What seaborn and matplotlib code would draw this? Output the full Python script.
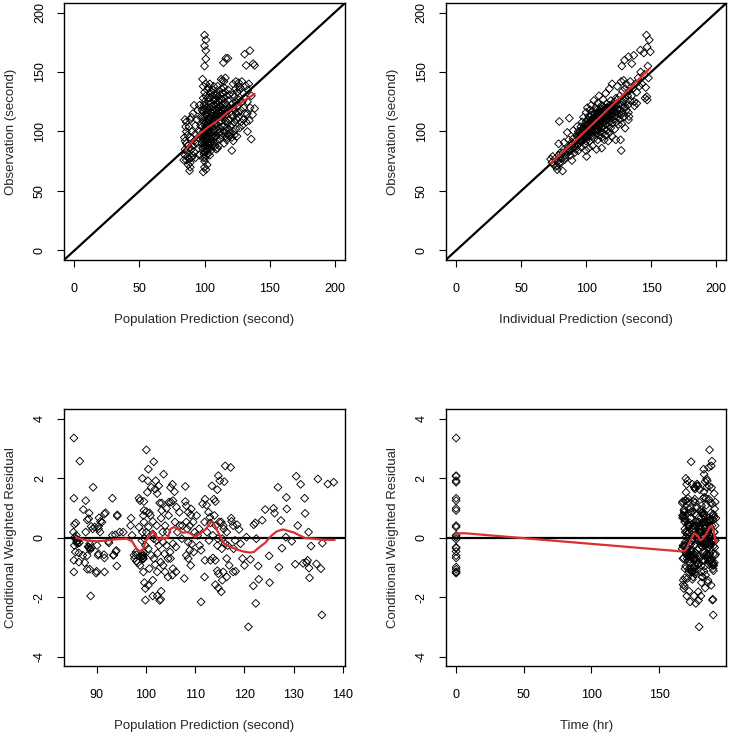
import matplotlib
matplotlib.use("Agg")
import matplotlib.pyplot as plt
import seaborn as sns
import pandas as pd

# observation vs population prediction (second)
pred_obs = [
    (85, 110), (86, 108), (85.5, 104), (86, 100), (87, 97), (84.5, 95), (85, 92), (86, 90), (87, 88),
    (88, 86), (85, 85), (86.5, 83), (85, 80), (87, 79), (88, 77), (86, 76), (84, 76), (89, 74),
    (87.5, 72), (89, 70), (88.5, 67), (90, 78), (91, 80), (90, 85), (91, 88), (92, 92), (89, 95),
    (90, 100), (88, 104), (89, 110), (91, 115), (92, 122), (90, 112), (93, 98), (93, 105), (94, 110),
    (95, 118), (96, 122), (94, 90), (95, 86), (92, 83), (93, 78), (96, 80), (95, 95), (96, 100),
    (97, 105), (97, 112), (98, 118),
    (99, 66), (100, 70), (101, 68), (102, 72), (100, 75), (99, 78), (101, 80), (100, 83), (102, 85),
    (99, 86), (101, 88), (100, 90), (98, 90), (102, 92), (99, 93), (101, 94), (100, 96), (103, 96),
    (98, 97), (100, 98), (102, 99), (99, 100), (101, 101), (103, 102), (100, 103), (98, 104),
    (102, 105), (100, 106), (101, 108), (99, 109), (103, 110), (100, 112), (101, 114), (102, 116),
    (99, 117), (100, 119), (102, 120), (101, 122), (100, 125), (103, 125), (99, 128), (101, 130),
    (100, 133), (102, 135), (99, 138), (101, 140), (98.5, 144), (100, 155), (101, 161), (101, 168),
    (100, 172), (101, 177), (100, 181),
    (104, 80), (105, 84), (103, 86), (106, 88), (104, 90), (107, 91), (105, 93), (103, 95), (106, 96),
    (104, 98), (108, 99), (105, 100), (107, 102), (104, 104), (106, 105), (108, 106), (105, 108),
    (103, 109), (107, 110), (104, 112), (106, 113), (108, 114), (105, 116), (103, 118), (107, 118),
    (104, 120), (106, 121), (108, 122), (105, 124), (107, 126), (104, 128), (106, 130), (108, 131),
    (105, 134), (103, 137), (107, 138), (104, 140),
    (109, 85), (111, 88), (110, 92), (112, 94), (109, 96), (113, 97), (111, 99), (110, 101),
    (112, 103), (114, 104), (109, 106), (111, 108), (113, 109), (110, 111), (112, 113), (114, 114),
    (109, 115), (111, 117), (113, 118), (110, 120), (112, 121), (114, 122), (109, 124), (111, 125),
    (113, 127), (110, 129), (112, 131), (114, 132), (111, 134), (113, 136), (110, 138), (112.8, 144),
    (113.8, 143), (114.5, 157.8), (112, 100), (108, 88), (110, 86),
    (115, 90), (117, 93), (116, 96), (118, 98), (115, 100), (119, 101), (117, 103), (115, 105),
    (118, 107), (116, 109), (119, 110), (115, 112), (117, 114), (116, 116), (118, 118), (115, 119),
    (119, 120), (117, 122), (116, 124), (118, 126), (115, 128), (117, 130), (119, 131), (116, 133),
    (118, 135), (115, 137), (114.9, 142), (116.4, 161.5), (118, 161.5), (116, 145), (117, 95),
    (119, 96), (120, 98),
    (121, 84), (122, 92), (121, 95), (123, 97), (122, 100), (124, 102), (120, 104), (121, 106),
    (123, 108), (125, 110), (122, 112), (121, 114), (124, 115), (126, 116), (123, 118), (122, 120),
    (125, 121), (121, 123), (124, 125), (126, 127), (123, 129), (122, 131), (125, 133), (127, 135),
    (124, 136), (126, 138), (124.1, 142), (126.2, 141), (127.2, 137.2), (128.7, 142), (122, 140),
    (127, 103), (128, 108), (126, 112), (128, 118), (125, 96),
    (129, 105), (130, 110), (131, 115), (130, 120), (129, 125), (131, 128), (130, 132),
    (131.8, 138.3), (133.3, 135), (132.8, 114.8), (134.4, 109.2), (137, 114.2), (138.5, 119.3),
    (135.9, 93.6), (130.8, 165), (134.9, 168), (132, 155.6), (137.4, 157), (138.5, 155.6),
    (133, 125), (135, 120), (136, 130), (134, 140), (132, 108), (133, 100),
    (99.5, 88), (100.5, 92), (101.5, 95), (100.5, 97), (99.5, 99), (100.5, 101), (101.5, 103),
    (102.5, 107), (103.5, 100), (104.5, 106), (105.5, 110), (106.5, 115), (107.5, 108), (108.5, 112),
    (109.5, 118), (110.5, 114), (111.5, 121), (112.5, 116), (113.5, 112), (114.5, 119), (104.5, 94),
    (105.5, 97), (106.5, 92), (107.5, 95), (102.5, 90), (101.5, 84), (103.5, 88), (110.5, 123),
    (111.5, 127), (108.5, 127), (109.5, 131), (106.5, 135), (104.5, 132), (102.5, 128), (100.5, 115),
    (101.5, 118), (99.5, 122), (98.5, 112), (97.5, 96), (98.5, 86), (99.5, 81), (100.5, 78),
    (102.5, 81), (104.5, 86),
]
pred_obs_smooth_x = [85.4, 91.8, 96.9, 102, 107.2, 112.3, 117.4, 122.6, 127.7, 132.8, 138.5]
pred_obs_smooth_y = [84.6, 93, 98.6, 103, 107, 111, 116, 119.6, 123.7, 127.7, 131.6]

# observation vs individual prediction (second)
ipred_obs = [
    (72.7, 76.8), (73.8, 74), (74.3, 79), (75, 72), (76.8, 70.7), (77.8, 67.9), (76, 77), (78, 75),
    (79, 73), (80.4, 73.5), (81.9, 66.8), (79, 80), (80, 82), (82, 78), (83.5, 76.3), (84, 80),
    (85, 83), (83, 85), (78.9, 89.7), (83, 90.8), (86.6, 93), (85.5, 99.2), (79.4, 108.4),
    (87.1, 111.2), (86, 86), (87, 84), (88, 80), (89.1, 75.7), (88, 88), (89, 91), (90, 86), (90, 94),
    (90.1, 100.8), (91, 82), (91, 88), (92, 85), (92, 92), (93, 96), (93.2, 104.2), (93, 88), (94, 84),
    (94, 100), (95, 90), (95, 93), (96, 87), (96, 98), (96, 104), (97, 92), (97, 100), (97, 108),
    (98, 95), (98, 102), (98, 112), (99, 89), (99, 97), (99, 105), (100, 84), (100, 92), (100.4, 79),
    (100, 100), (100, 108), (100, 116),
    (101, 95), (101, 103), (101, 110), (101, 120), (102, 86), (102, 98), (102, 106), (102, 113),
    (103, 92), (103, 100), (103, 104), (103, 118), (104, 96), (104, 102), (104, 108), (104, 114),
    (104, 122), (105, 88), (105, 99), (105, 105), (105, 111), (105, 117), (106, 94), (106, 101),
    (106, 107), (106, 112), (106, 126), (107, 97), (107, 104), (107, 109), (107, 115), (107, 120),
    (108, 85), (108, 100), (108, 106), (108, 111), (108, 118), (109, 93), (109, 102), (109, 108),
    (109, 113), (109, 124), (110, 97), (110, 104), (110, 110), (110, 116), (110, 130), (111, 100),
    (111, 106), (111, 112), (111, 119), (112, 86), (112, 95), (112, 103), (112, 109), (112, 115),
    (112, 122), (113, 99), (113, 105), (113, 111), (113, 117), (113, 127), (114, 93), (114, 102),
    (114, 108), (114, 114), (114, 120), (115, 97), (115, 106), (115, 112), (115, 118), (115, 132),
    (116, 101), (116, 110), (116, 116), (116, 123), (117, 92), (117, 105), (117, 113), (117, 120),
    (118, 99), (118, 108), (118, 115), (118, 122), (118, 136), (119, 103), (119, 111), (119, 118),
    (119, 126), (120, 96), (120, 107), (120, 114), (120, 121), (120, 140),
    (121, 110), (121, 117), (121, 124), (122, 102), (122, 113), (122, 120), (122.9, 93), (123, 108),
    (123, 116), (123, 128), (124, 112), (124, 119), (124, 138), (125, 106), (125, 115), (125, 123),
    (126, 110), (126, 118), (126, 130), (126.5, 93), (127, 84), (127, 114), (127, 122), (127, 142),
    (127.5, 106.4), (127.5, 155), (128, 116), (128, 125), (128, 134), (129, 112), (129, 120),
    (129, 143), (129.6, 160), (130, 102.8), (130, 121), (130, 128), (130, 136), (131, 118), (131, 125),
    (131, 140), (132, 122), (132, 130), (132.6, 109.8), (132.6, 116), (132.6, 162.8), (133, 112.6),
    (133, 134), (134, 126), (134, 142), (135, 130), (135.2, 157), (136, 136), (136.7, 164), (137, 125),
    (137.3, 121.5), (138, 140), (139, 123.7), (139, 133), (140, 145), (141, 138), (141.8, 168.4),
    (142, 150), (143, 140), (144.4, 166), (145, 148), (145.4, 128), (145.9, 137), (146.5, 181),
    (146.7, 129.3), (147, 126.5), (147, 171), (147.5, 155), (148.6, 177), (149.4, 167), (148, 145),
    (95, 95), (96, 96), (97, 97), (98, 98), (99, 100), (100, 101), (101, 102), (102, 103), (103, 104),
    (104, 105), (105, 107), (106, 108), (107, 108), (108, 109), (109, 110), (110, 112), (111, 113),
    (112, 114), (113, 115), (114, 116), (115, 117), (116, 118), (117, 119), (118, 120), (119, 121),
    (120, 122), (100, 96), (102, 100), (104, 110), (106, 104), (108, 114), (110, 106), (112, 118),
    (114, 111), (116, 113), (118, 112), (105, 102), (107, 112), (109, 116), (111, 109), (113, 121),
    (103, 112), (101, 98), (99, 94), (97, 94), (95, 99), (94, 96), (92, 89), (90, 90), (88, 84),
    (86, 82), (84, 78), (82, 82), (80, 78), (78, 71),
    (96, 92), (98, 93), (100, 98), (101, 106), (102, 108), (103, 99), (104, 100), (105, 109),
    (106, 110), (107, 106), (108, 102), (109, 105), (110, 114), (111, 116), (112, 111), (113, 108),
    (114, 118), (115, 114), (116, 120), (117, 116), (118, 118), (119, 114), (120, 118), (121, 121),
    (122, 125), (123, 122), (124, 127), (99, 102), (97, 102), (95, 97),
]
ipred_obs_smooth_x = [73, 90, 110, 130, 149]
ipred_obs_smooth_y = [73.5, 90.5, 111.5, 132.5, 153]

# population prediction, conditional weighted residual, time (hr)
cwres_rows = [
    (85.4, 3.36, 0), (86.6, 2.58, 189.0), (85.4, 1.33, 0), (87.8, 1.25, 0), (89.3, 1.70, 176.2),
    (87.3, 0.95, 168.4), (88.5, 0.83, 183.1), (88.1, 0.60, 189.7), (85.5, 0.45, 170.9),
    (85.8, 0.50, 186.3), (85.3, 0.19, 178.8), (85.9, 0.08, 0), (86.2, -0.09, 191.5),
    (85.5, -0.26, 167.6), (86.5, -0.17, 181.4), (85.7, -0.48, 173.2), (85.4, -0.76, 188.6),
    (86.4, -0.51, 169.9), (87.2, -0.59, 184.7), (86.4, -0.82, 177.3), (87.6, -0.84, 190.8),
    (85.4, -1.15, 0), (88.1, -1.06, 0), (88.6, -1.06, 171.8), (88.1, -0.60, 0), (88.4, -0.32, 0),
    (88.6, -0.35, 185.9), (87.8, 0.19, 179.6), (88.4, 0.64, 168.9), (88.9, 0.38, 187.4),
    (89.2, 0.30, 175.1), (88.6, -0.20, 182.2), (88.8, -1.96, 170.4), (86.0, -0.12, 189.1),
    (86.1, -0.20, 172.6), (85.8, -0.05, 0), (86.0, -0.15, 180.3), (85.6, 0.02, 186.8),
    (88.3, -0.30, 167.9), (88.7, -0.40, 178.1), (89.0, -0.33, 191.0),
    (90.4, 0.30, 183.7), (90.7, 0.19, 169.3), (90.8, 0.55, 176.8), (91.8, 0.84, 188.2),
    (90.0, -1.13, 173.9), (91.6, -1.15, 181.0), (90.4, -0.54, 190.2), (91.6, -0.68, 168.1),
    (92.4, -0.12, 184.4), (93.2, 1.33, 171.2), (93.2, 0.08, 179.0), (93.8, 0.10, 187.0),
    (93.9, -0.46, 0), (93.4, -0.59, 174.0), (94.2, 0.77, 182.8), (94.1, -0.95, 169.6),
    (94.7, 0.19, 190.5), (95.4, 0.19, 176.0), (91.1, 0.53, 185.3), (89.6, 0.36, 172.1),
    (90.1, -0.26, 180.7), (90.5, 0.67, 167.3), (91.6, 0.80, 189.9), (90.4, 0.39, 175.6),
    (94.2, 0.73, 183.4), (91.5, -0.57, 170.1), (90.3, -0.59, 178.5), (89.9, -1.19, 0),
    (93.5, -0.58, 186.0), (94.0, -0.43, 173.5), (92.5, -0.17, 181.7),
    (97.0, 0.66, 168.6), (97.2, 0.08, 184.9), (96.9, 0.41, 177.7), (97.6, -0.59, 191.2),
    (97.7, -0.70, 170.7), (98.1, -0.79, 186.5), (98.1, -0.57, 174.8), (98.6, 1.33, 182.5),
    (98.8, 1.25, 169.0), (98.4, -0.84, 188.9), (98.8, -0.93, 176.5), (99.3, -0.61, 172.9),
    (99.5, -0.70, 185.6), (99.3, 2.00, 169.7), (99.6, 1.22, 167.4), (99.6, 0.92, 0),
    (99.5, 0.75, 190.0), (99.6, 0.53, 178.3), (99.3, 0.19, 183.9), (99.7, -0.03, 171.5),
    (99.9, -0.26, 187.7), (99.5, -1.15, 175.3), (99.7, -1.51, 181.2), (99.9, -1.71, 168.2),
    (99.9, -2.10, 189.4), (99.2, -0.09, 174.3), (98.6, 0.36, 184.1), (98.0, -0.48, 170.0),
    (99.3, -0.62, 179.3), (99.4, -0.68, 0), (99.5, -0.60, 186.1), (99.4, -0.72, 172.4),
    (99.3, -0.55, 191.7), (99.5, -0.50, 177.0),
    (100.1, 2.96, 187.2), (100.5, 2.31, 182.9), (101.6, 2.56, 173.6), (100.4, 1.92, 0),
    (100.3, 1.53, 169.8), (101.1, 1.70, 185.0), (101.9, 1.64, 176.4), (102.3, 1.49, 190.6),
    (102.0, 1.92, 171.0), (103.6, 2.14, 183.2), (102.6, 1.75, 178.7), (102.8, 1.17, 167.1),
    (103.2, 1.17, 188.0), (100.1, 0.88, 174.7), (100.7, 0.84, 181.9), (100.9, 0.75, 169.4),
    (101.4, 0.55, 186.7), (102.2, 0.41, 177.9), (103.1, 0.66, 191.9), (103.9, 0.41, 172.3),
    (104.3, 0.19, 180.5), (100.5, 0.36, 0), (100.1, 0.19, 184.6), (101.4, 0.13, 170.6),
    (102.2, -0.09, 189.2), (102.6, -0.26, 176.1), (103.5, -0.15, 182.1), (104.2, -0.26, 168.7),
    (100.5, -0.37, 187.9), (101.1, -0.59, 173.0), (101.6, -0.70, 179.8), (102.4, -0.52, 185.4),
    (103.0, -0.82, 171.4), (103.5, -0.93, 190.3), (104.5, -0.70, 177.5), (104.9, -0.48, 183.6),
    (100.7, -1.04, 169.1), (101.9, -0.90, 186.4), (102.3, -1.15, 0), (103.9, -1.15, 174.1),
    (104.5, -1.32, 181.5), (101.4, -1.43, 167.8), (100.5, -1.60, 188.4), (101.4, -1.96, 175.8),
    (102.3, -1.96, 180.8), (103.0, -2.07, 189.6), (103.1, -1.80, 172.0), (102.8, -2.11, 179.1),
    (101.6, -0.03, 185.7), (103.4, 0.19, 170.3), (103.8, -0.54, 187.5), (104.7, 1.20, 176.7),
    (104.2, 0.99, 0), (104.6, 0.75, 182.4), (103.2, 0.92, 168.3),
    (105.0, 1.69, 188.7), (105.4, 1.80, 174.4), (105.8, 1.55, 183.0), (105.5, 1.25, 169.7),
    (105.1, 1.20, 191.4), (106.2, 1.03, 178.0), (105.9, 0.53, 185.2), (106.9, 0.41, 171.7),
    (106.4, 0.19, 180.1), (107.3, -0.03, 187.3), (105.5, -0.20, 173.7), (106.1, -0.31, 182.0),
    (105.0, -0.70, 167.5), (105.5, -1.04, 189.8), (106.1, -1.15, 176.9), (105.4, -1.26, 184.3),
    (107.8, -1.37, 170.8), (108.0, 1.73, 186.9), (108.0, 1.22, 175.4), (108.2, 1.08, 181.3),
    (108.6, 0.86, 168.5), (109.2, 0.97, 190.9), (109.1, 0.77, 177.2), (108.2, 0.53, 183.8),
    (108.9, 0.41, 172.7), (109.6, 0.53, 179.4), (109.9, 0.19, 186.2), (108.6, -0.15, 169.2),
    (109.3, -0.21, 188.1), (108.9, -0.42, 174.9), (109.7, -0.48, 182.6), (108.2, -0.59, 171.1),
    (108.6, -0.70, 185.8), (109.1, -0.93, 178.4), (107.4, 0.41, 191.3), (106.8, 0.86, 173.3),
    (108.4, 0.30, 180.6),
    (110.3, 0.75, 167.2), (110.8, 0.30, 187.1), (110.5, 0.08, 175.9), (110.9, -0.26, 183.5),
    (111.2, -0.42, 170.2), (111.2, -2.16, 172.8), (111.5, 1.14, 189.3), (112.0, 1.30, 176.3),
    (112.3, 1.10, 184.8), (111.9, 0.53, 168.8), (112.7, 0.86, 181.8), (113.0, 0.69, 190.4),
    (113.4, 1.75, 177.6), (113.8, 1.30, 186.6), (114.1, 1.22, 171.3), (114.5, 1.62, 179.9),
    (114.7, 2.09, 0), (115.0, 1.92, 185.5), (113.6, -0.68, 173.8), (114.1, -0.76, 182.3),
    (114.5, -0.26, 169.5), (112.0, -0.76, 188.3), (111.9, -1.32, 175.0), (113.1, -0.76, 183.3),
    (114.1, -1.58, 167.7), (114.5, -1.11, 190.1), (114.7, -1.21, 176.6), (114.7, -1.69, 184.0),
    (112.4, 0.19, 172.2), (112.8, -0.09, 180.4), (113.6, 0.08, 187.6), (114.6, -0.03, 174.6),
    (113.1, 0.50, 181.6), (113.9, 0.75, 168.0), (114.2, 0.41, 189.0), (114.9, 0.53, 177.4),
    (115.3, -1.82, 178.9), (115.5, -1.43, 186.0), (115.7, -1.15, 171.9), (115.9, 1.89, 183.9),
    (116.1, 2.42, 188.5), (117.2, 2.37, 186.5), (115.7, 0.41, 175.2), (115.3, 0.53, 182.7),
    (115.8, 0.30, 169.0), (116.4, 0.19, 190.7), (115.5, -0.03, 177.8), (116.1, -0.20, 184.5),
    (115.4, -0.37, 170.5), (116.6, -0.26, 187.8), (116.4, -0.70, 176.2), (116.9, -0.93, 181.1),
    (117.3, 0.66, 173.1), (117.4, 0.55, 185.1), (117.7, 0.41, 179.7), (117.8, -0.37, 167.0),
    (118.1, -0.09, 188.8), (117.7, -1.15, 174.2), (118.2, -1.13, 183.1), (118.5, 0.44, 171.6),
    (118.9, 0.28, 180.2), (119.2, -0.20, 186.3), (119.6, -0.70, 175.7), (116.4, -1.32, 182.0),
    (120.4, 0.02, 169.8), (120.0, -0.93, 189.5), (120.8, -3.00, 179.5), (121.2, -0.73, 176.0),
    (121.8, -1.62, 168.6), (121.9, 0.44, 184.2), (122.2, 0.50, 172.5), (122.3, -2.21, 177.0),
    (122.4, -0.03, 190.6), (122.8, -0.95, 183.7), (122.9, -1.40, 174.5), (123.6, 0.59, 187.0),
    (124.2, 0.95, 180.9), (125.0, -0.61, 170.9),
    (125.1, -1.51, 185.9), (125.9, 0.99, 173.4), (126.1, 0.83, 181.4), (126.8, 1.70, 176.1),
    (127.0, -0.99, 0), (127.4, 0.58, 188.2), (127.6, -0.35, 0), (128.5, 1.36, 183.3),
    (128.6, 0.97, 171.8), (128.4, 0.02, 0), (129.6, -0.12, 186.8),
    (130.3, -0.89, 178.6), (130.5, 2.07, 0), (130.8, 0.41, 0), (131.4, 1.80, 170.3),
    (131.9, -0.86, 189.7), (132.2, 1.33, 184.6), (132.3, 0.82, 176.4), (132.6, -0.84, 172.9),
    (132.8, -0.76, 187.4), (133.0, 0.19, 181.0), (133.1, -1.02, 175.5), (133.2, -1.35, 168.9),
    (133.5, -0.28, 190.0), (134.6, -0.88, 179.2), (134.9, 1.98, 185.0), (135.5, -1.04, 173.7),
    (135.7, -2.60, 189.9), (135.8, -0.18, 182.8), (136.9, 1.81, 177.9), (138.1, 1.87, 0),
]
cwres_pred_smooth_x = [85.9, 88.0, 90, 92, 93.4, 96.1, 97.2, 98.1, 98.8, 99.5, 99.9, 100.5, 101.4,
                       101.9, 102.6, 103.2, 103.9, 104.5, 105.0, 105.7, 106.6, 107.4, 108.4, 109.2,
                       110.0, 110.9, 112.2, 113.2, 113.8, 114.3, 115.0, 115.9, 117.2, 118.4, 119.7,
                       121.1, 121.9, 122.8, 124.2, 125.4, 126.5, 127.8, 128.9, 130.1, 131.2, 132.3,
                       133.9, 136.0, 138.3]
cwres_pred_smooth_y = [0, -0.09, -0.12, -0.09, -0.06, -0.03, -0.12, -0.37, -0.46, -0.37, -0.12, 0.02,
                       0.21, 0.12, -0.09, 0.02, -0.03, 0.02, 0.30, 0.36, 0.28, 0.17, 0.19, 0.13, 0.02,
                       0.13, 0.30, 0.53, 0.48, 0.30, 0.08, -0.20, -0.31, -0.39, -0.46, -0.50, -0.48,
                       -0.35, -0.17, 0.06, 0.21, 0.28, 0.23, 0.17, 0.08, -0.01, -0.03, -0.07, -0.07]
cwres_time_smooth_x = [0, 7, 166.5, 169.5, 172.7, 175.9, 178.3, 180.3, 182.3, 184.8, 187.2, 188.7,
                       190.2, 191.7, 192.7]
cwres_time_smooth_y = [0.15, 0.15, -0.46, -0.42, -0.12, 0.15, 0.08, -0.09, -0.03, 0.13, 0.36, 0.41,
                       0.25, -0.15, -0.09]

top = pd.DataFrame(pred_obs, columns=["pred", "obs"])
ind = pd.DataFrame(ipred_obs, columns=["ipred", "obs"])
cw = pd.DataFrame(cwres_rows, columns=["pred", "cwres", "time"])

sns.set_style("white")
plt.rcParams["font.family"] = ["Liberation Sans", "DejaVu Sans"]
plt.rcParams["axes.unicode_minus"] = False

RED = "#d83030"

fig = plt.figure(figsize=(7.31, 7.34), dpi=100)
ax1 = fig.add_axes([0.0876, 0.6458, 0.3844, 0.3501])
ax2 = fig.add_axes([0.6097, 0.6458, 0.3841, 0.3501])
ax3 = fig.add_axes([0.0876, 0.0926, 0.3844, 0.3495])
ax4 = fig.add_axes([0.6097, 0.0926, 0.3841, 0.3495])


def points(ax, data, x, y):
    sns.scatterplot(data=data, x=x, y=y, ax=ax, marker="D", s=16, facecolor="none",
                    edgecolor="black", linewidth=0.65, zorder=2)


def style(ax, xlim, ylim, xticks, yticks, xlabel, ylabel):
    ax.set_xlim(*xlim)
    ax.set_ylim(*ylim)
    ax.set_xticks(xticks)
    ax.set_yticks(yticks)
    ax.set_xlabel(xlabel, fontsize=9.5, labelpad=14)
    ax.set_ylabel(ylabel, fontsize=9.5, labelpad=12.3)
    ax.tick_params(direction="out", length=5, width=0.8, labelsize=9, pad=8,
                   bottom=True, left=True, colors="black")
    ax.tick_params(axis="x", pad=11.4)
    for lab in ax.get_yticklabels():
        lab.set_rotation(90)
        lab.set_va("center")
    for sp in ax.spines.values():
        sp.set_color("black")
        sp.set_linewidth(1.0)


points(ax1, top, "pred", "obs")
ax1.axline((0, 0), slope=1, color="black", lw=1.6, zorder=3)
sns.lineplot(x=pred_obs_smooth_x, y=pred_obs_smooth_y, ax=ax1, color=RED, lw=1.6, zorder=4)
style(ax1, (-8, 208), (-8, 208), [0, 50, 100, 150, 200], [0, 50, 100, 150, 200],
      "Population Prediction (second)", "Observation (second)")

points(ax2, ind, "ipred", "obs")
ax2.axline((0, 0), slope=1, color="black", lw=1.6, zorder=3)
sns.lineplot(x=ipred_obs_smooth_x, y=ipred_obs_smooth_y, ax=ax2, color=RED, lw=1.6, zorder=4)
style(ax2, (-8, 208), (-8, 208), [0, 50, 100, 150, 200], [0, 50, 100, 150, 200],
      "Individual Prediction (second)", "Observation (second)")

points(ax3, cw, "pred", "cwres")
ax3.axhline(0, color="black", lw=1.6, zorder=3)
sns.lineplot(x=cwres_pred_smooth_x, y=cwres_pred_smooth_y, ax=ax3, color=RED, lw=1.6, zorder=4,
             sort=False)
style(ax3, (83.4, 140.4), (-4.32, 4.32), [90, 100, 110, 120, 130, 140], [-4, -2, 0, 2, 4],
      "Population Prediction (second)", "Conditional Weighted Residual")

points(ax4, cw, "time", "cwres")
ax4.axhline(0, color="black", lw=1.6, zorder=3)
sns.lineplot(x=cwres_time_smooth_x, y=cwres_time_smooth_y, ax=ax4, color=RED, lw=1.6, zorder=4,
             sort=False)
style(ax4, (-7.7, 199.7), (-4.32, 4.32), [0, 50, 100, 150], [-4, -2, 0, 2, 4],
      "Time (hr)", "Conditional Weighted Residual")

fig.savefig("out.png", dpi=100)
